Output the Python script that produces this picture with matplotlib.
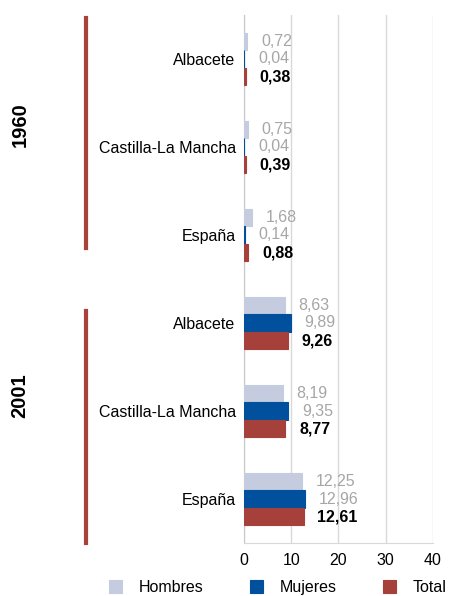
import numpy as np
import matplotlib.pyplot as plt
from matplotlib.lines import Line2D
import matplotlib.transforms as mtransforms

plt.rcParams['font.family'] = ['Liberation Sans', 'DejaVu Sans']

regiones = ['Albacete', 'Castilla-La Mancha', 'España',
            'Albacete', 'Castilla-La Mancha', 'España']
anios = ['1960', '2001']
hombres = [0.72, 0.75, 1.68, 8.63, 8.19, 12.25]
mujeres = [0.04, 0.04, 0.14, 9.89, 9.35, 12.96]
total = [0.38, 0.39, 0.88, 9.26, 8.77, 12.61]
series = ['Hombres', 'Mujeres', 'Total']

colores = ['#c5cce0', '#00509e', '#a5403a']
FS = 11.5

fig = plt.figure(figsize=(4.54, 5.96), dpi=100)
ax = fig.add_axes([0.5374, 0.0889, 0.4163, 0.886])

y = np.arange(len(regiones))
h = 0.2
for k, (vals, col, name) in enumerate(zip([hombres, mujeres, total], colores, series)):
    pos = y + (k - 1) * h
    ax.barh(pos, vals, height=h, color=col, edgecolor=col, lw=0.8, label=name, zorder=3)
    for p, v in zip(pos, vals):
        txt = f"{v:.2f}".replace('.', ',')
        if name == 'Total':
            ax.annotate(txt, (v, p), xytext=(10, 0), textcoords='offset points',
                        va='center', ha='left', fontsize=FS, fontweight='bold', color='black')
        else:
            ax.annotate(txt, (v, p), xytext=(10, 0), textcoords='offset points',
                        va='center', ha='left', fontsize=FS, color='#a6a6a6')

ax.set_xlim(0, 40)
ax.set_ylim(5.5, -0.5)
ax.set_xticks([0, 10, 20, 30, 40])
ax.set_yticks(y)
ax.set_yticklabels(regiones, fontsize=FS)
ax.tick_params(axis='both', length=0, labelsize=FS)
ax.tick_params(axis='y', pad=6)
ax.tick_params(axis='x', pad=7)
ax.grid(axis='x', color='#d9d9d9', lw=1, zorder=0)
for s in ['top', 'right']:
    ax.spines[s].set_visible(False)
ax.spines['left'].set_color('#c8c8c8')
ax.spines['bottom'].set_color('#d9d9d9')

# year brackets
trans = mtransforms.blended_transform_factory(fig.transFigure, ax.transData)
for (y0, y1, yt), anio in zip([(-0.46, 2.15, 0.75), (2.86, 5.5, 3.83)], anios):
    fig.add_artist(Line2D([0.19, 0.19], [y0, y1], transform=trans,
                          color='#a9433a', lw=3))
    fig.text(0.044, yt, anio, transform=trans, rotation=90, fontsize=14.5,
             fontweight='bold', ha='center', va='center')

fig.legend(loc='center left', bbox_to_anchor=(0.241, 0.014), ncol=3, frameon=False,
           fontsize=FS, handlelength=0.8, handleheight=0.8, handletextpad=1.05,
           columnspacing=2.9, borderpad=0, borderaxespad=0)

fig.savefig('out.png', dpi=100)
